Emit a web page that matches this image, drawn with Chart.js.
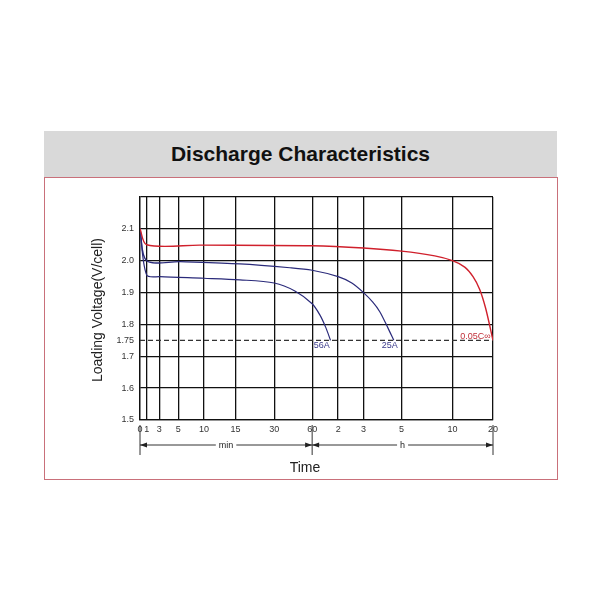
<!DOCTYPE html><html><head><meta charset="utf-8">
<script src="https://cdn.jsdelivr.net/npm/chart.js"></script>
<style>
body{margin:0;width:600px;height:600px;background:#fff;position:relative;font-family:"Liberation Sans",Arial,sans-serif}
#hdr{position:absolute;left:44px;top:131px;width:513px;height:46px;background:#d9d9d9;text-align:center;line-height:46px;font-weight:bold;font-size:21px;color:#111}
#box{position:absolute;left:44px;top:177px;width:512px;height:301px;border:1px solid #c9707a;border-top:1px solid #c9707a}
canvas{position:absolute;left:0;top:0}
</style></head><body>
<div id="hdr">Discharge Characteristics</div><div id="box"></div>
<canvas id="c" width="600" height="600"></canvas>
<script>
// x grid positions (axis units) and their labels
const xTickPos=[0,6.7,19.3,38.3,64,95.7,134.3,172.3,198.3,223.7,261.7,312.7,353.3];
const xTickLabels=["0","1","3","5","10","15","30","60","2","3","5","10","20"];
const yTicks=[1.5,1.6,1.7,1.75,1.8,1.9,2.0,2.1,2.2];
const redX=[0,6.7,60,172.3,223.7,261.7,295,312.7,325,333.3,340,346,353.3];
const redY=[2.1,2.05,2.049,2.047,2.04,2.03,2.015,2.0,1.98,1.95,1.91,1.85,1.75];
const a25X=[0,6.7,40,100,150,172.3,198.3,212,223.7,233,240,248,254];
const a25Y=[2.1,2.0,1.997,1.99,1.978,1.97,1.95,1.93,1.9,1.87,1.84,1.79,1.75];
const a56X=[0,6.7,20,64,100,134.3,155,172.3,180,186,190.7];
const a56Y=[2.1,1.955,1.95,1.945,1.94,1.93,1.905,1.865,1.83,1.79,1.75];
const pts=(xs,ys)=>xs.map((x,i)=>({x,y:ys[i]}));
const deco={id:'deco',afterDraw(ch){const c=ch.ctx,xs=ch.scales.x,ys=ch.scales.y;
 c.save();c.fillStyle='#222';c.font='14px "Liberation Sans",Arial';c.textAlign='center';
 c.fillText('Time',305,472);
 c.save();c.translate(102,310);c.rotate(-Math.PI/2);c.fillText('Loading Voltage(V/cell)',0,0);c.restore();
 const x0=xs.getPixelForValue(0),x1=xs.getPixelForValue(172.3),x2=xs.getPixelForValue(353.3),yy=445;
 c.strokeStyle='#333';c.lineWidth=1;
 [x0,x1,x2].forEach(x=>{c.beginPath();c.moveTo(x,425);c.lineTo(x,455);c.stroke();});
 const seg=(a,b,lab)=>{const m=(a+b)/2;c.font='9px "Liberation Sans",Arial';const w=c.measureText(lab).width/2+3;
  c.beginPath();c.moveTo(a,yy);c.lineTo(m-w,yy);c.moveTo(m+w,yy);c.lineTo(b,yy);c.stroke();
  c.fillText(lab,m,yy+3);
  [[a,1],[b,-1]].forEach(([x,d])=>{c.beginPath();c.moveTo(x,yy);c.lineTo(x+7*d,yy-2.5);c.lineTo(x+7*d,yy+2.5);c.closePath();c.fill();});};
 seg(x0,x1,'min');seg(x1,x2,'h');
 c.font='9px "Liberation Sans",Arial';c.fillStyle='#3a3a8a';
 c.fillText('56A',xs.getPixelForValue(182),ys.getPixelForValue(1.735)+3);
 c.fillText('25A',xs.getPixelForValue(250),ys.getPixelForValue(1.735)+3);
 c.fillStyle='#c0303a';c.textAlign='right';c.fillText('0.05C∞',xs.getPixelForValue(351),ys.getPixelForValue(1.765)+3);
 c.restore();}};
new Chart(document.getElementById('c'),{type:'scatter',
 data:{datasets:[
  {data:pts(redX,redY),borderColor:'#d0202c',showLine:true,pointRadius:0,borderWidth:1.4,tension:0.3},
  {data:pts(a25X,a25Y),borderColor:'#2a2a7a',showLine:true,pointRadius:0,borderWidth:1.2,tension:0.3},
  {data:pts(a56X,a56Y),borderColor:'#2a2a7a',showLine:true,pointRadius:0,borderWidth:1.2,tension:0.3},
  {data:pts([0,353.3],[1.75,1.75]),borderColor:'#333',borderDash:[5,3],showLine:true,pointRadius:0,borderWidth:1.2}]},
 options:{responsive:false,animation:false,plugins:{legend:{display:false},tooltip:{enabled:false}},
  layout:{padding:{top:197,right:107,left:0,bottom:0}},
  scales:{
   x:{type:'linear',min:0,max:353.3,afterFit(s){s.height=180;},
    afterBuildTicks(s){s.ticks=xTickPos.map(v=>({value:v}));},
    ticks:{autoSkip:false,maxRotation:0,padding:4,color:'#333',font:{size:9},callback:(v,i)=>xTickLabels[i]},
    grid:{color:'#111',lineWidth:1.3,drawTicks:false},border:{color:'#111',width:1.3}},
   y:{min:1.5,max:2.2,afterFit(s){s.width=140;},
    afterBuildTicks(s){s.ticks=yTicks.map(v=>({value:v}));},
    ticks:{autoSkip:false,padding:6,color:'#333',font:{size:9},callback:v=>v==2.2?'':(v==1.75?'1.75':v.toFixed(1))},
    grid:{color:c=>c.tick&&c.tick.value==1.75?'rgba(0,0,0,0)':'#111',lineWidth:1.3,drawTicks:false},border:{color:'#111',width:1.3}}}},
 plugins:[deco]});
</script></body></html>
